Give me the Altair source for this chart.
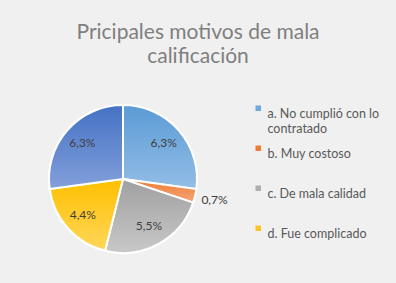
import altair as alt
import pandas as pd

categories = ["a. No cumplió con lo contratado", "b. Muy costoso", "c. De mala calidad",
              "d. Fue complicado", "e. Otros"]
values = [6.3, 0.7, 5.5, 4.4, 6.3]
colors = ["#6FA8DC", "#ED7D31", "#AFAFAF", "#FFC425", "#5479C8"]
top_colors = ["#5B9BD5", "#ED7D31", "#A0A0A0", "#FFC000", "#4472C4"]
bottom_colors = ["#93BDE6", "#F4A57A", "#C8C8C8", "#FFD65A", "#839FDA"]
legend_items = categories[:4]

df = pd.DataFrame({"cat": categories, "val": values, "order": list(range(len(values)))})

base = alt.Chart(df).transform_joinaggregate(
    total="sum(val)"
).transform_window(
    cum="sum(val)", sort=[alt.SortField("order")], frame=[None, 0]
).transform_calculate(
    t1="(datum.cum - datum.val) / datum.total * 2 * PI",
    t2="datum.cum / datum.total * 2 * PI",
    tm="(datum.cum - datum.val / 2) / datum.total * 2 * PI",
    label="replace(format(datum.val, '.1f'), '.', ',') + '%'",
    r="datum.val < 1 ? 94 : 54",
).encode(
    x=alt.value(123),
    y=alt.value(109),
)

pie = base.mark_arc(outerRadius=74, stroke="white", strokeWidth=2).encode(
    theta=alt.Theta("t1:Q", scale=None),
    theta2="t2:Q",
    color=alt.Color(
        "cat:N",
        scale=alt.Scale(domain=categories, range=colors),
        legend=alt.Legend(
            title=None, orient="none", legendX=252, legendY=32,
            values=legend_items, symbolType="square", symbolSize=30,
            symbolStrokeWidth=0, gridAlign="all",
            labelFont="Lato", labelFontSize=12.5, labelColor="#595959",
            labelLimit=200, rowPadding=6, labelOffset=3, labelBaseline="top",
            labelExpr="datum.label == 'a. No cumplió con lo contratado' ? ['a. No cumplió con lo', 'contratado'] : datum.label",
        ),
    ),
)

grad_layers = []
for cat, c_top, c_bot in zip(categories, top_colors, bottom_colors):
    grad = alt.Gradient(
        gradient="linear", x1=0, x2=0, y1=0, y2=1,
        stops=[alt.GradientStop(color=c_top, offset=0),
               alt.GradientStop(color=c_bot, offset=1)],
    )
    grad_layers.append(
        base.transform_filter(alt.datum.cat == cat)
        .mark_arc(outerRadius=74, stroke="white", strokeWidth=2, fill=grad)
        .encode(theta=alt.Theta("t1:Q", scale=None), theta2="t2:Q")
    )

text = base.mark_text(font="Lato", fontSize=12, color="#404040").encode(
    theta=alt.Theta("tm:Q", scale=None),
    radius=alt.Radius("r:Q", scale=None),
    text="label:N",
)

chart = alt.layer(pie, *grad_layers, text).properties(
    width=396, height=213,
    title=alt.TitleParams(
        text=["Pricipales motivos de mala", "calificación"],
        font="Lato", fontSize=21, fontWeight="normal", color="#7F7F7F",
        anchor="middle", lineHeight=24, offset=3,
    ),
    background="#F0F0F0",
    padding={"left": 0, "top": 70, "right": 0, "bottom": 0},
    autosize=alt.AutoSizeParams(type="none"),
).configure_view(stroke=None)

chart.save("out.html", embed_options={"renderer": "svg", "actions": False})
